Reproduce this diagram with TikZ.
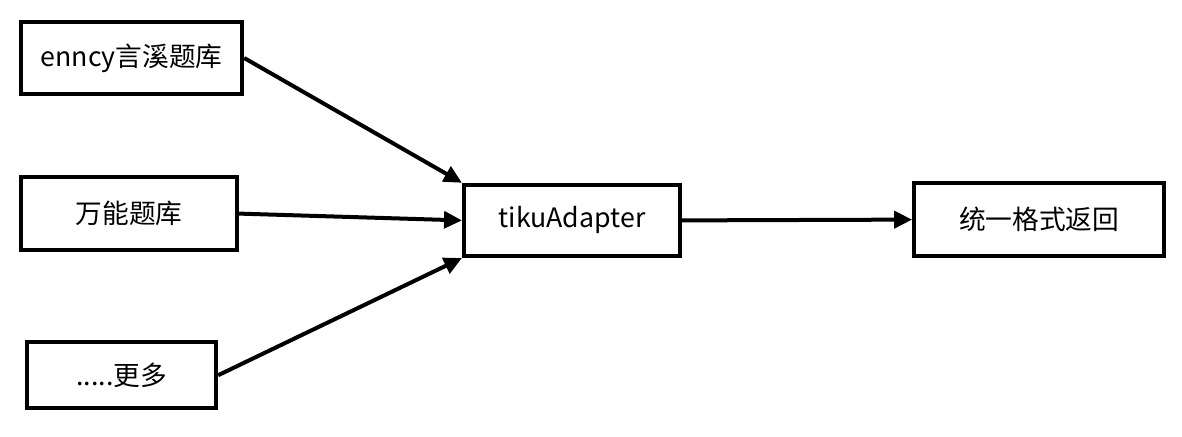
\documentclass[tikz,border=0pt]{standalone}
\usepackage{fontspec}
\setmainfont{Noto Sans CJK SC}
\usepackage{xcolor}
\usepackage{tikz}
\usetikzlibrary{arrows.meta,positioning}

\begin{document}
\begin{tikzpicture}[
  every node/.style={font=\fontsize{19}{23}\selectfont},
  box/.style={draw=black, fill=white, line width=0.1cm, inner sep=2pt},
  flow/.style={line width=0.1cm, -{Triangle[length=0.45cm, width=0.42cm]}}
]
\useasboundingbox (0, 0) rectangle (29.55, -10.9);
\node[box, minimum width=5.53cm, minimum height=1.8cm] (enncy) at (3.29, -1.45) {enncy言溪题库};
\node[box, minimum width=5.4cm, minimum height=1.83cm] (wanneng) at (3.23, -5.34) {万能题库};
\node[box, minimum width=4.73cm, minimum height=1.65cm] (more) at (3.04, -9.38) {.....更多};
\node[box, minimum width=5.4cm, minimum height=1.78cm] (adapter) at (14.3, -5.51) {tikuAdapter};
\node[box, minimum width=6.25cm, minimum height=1.83cm] (result) at (25.98, -5.49) {统一格式返回};
\draw[flow] (enncy.east) -- (adapter.north west);
\draw[flow] (wanneng.east) -- (adapter.west);
\draw[flow] (more.east) -- (adapter.south west);
\draw[flow] (adapter.east) -- (result.west);
\end{tikzpicture}
\end{document}
